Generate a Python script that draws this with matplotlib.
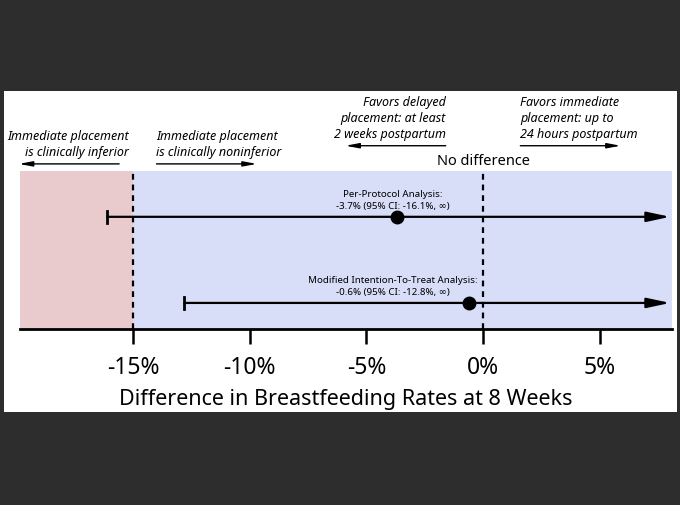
import matplotlib.pyplot as plt
from matplotlib.patches import Rectangle

plt.rcParams['font.family'] = ['Noto Sans', 'DejaVu Sans']

# data
analyses = ['Per-Protocol Analysis', 'Modified Intention-To-Treat Analysis']
estimates = [-3.7, -0.6]
ci_lower = [-16.1, -12.8]
margin = -15
xticks = [-15, -10, -5, 0, 5]
xlabels = ['-15%', '-10%', '-5%', '0%', '5%']
xmin, xmax = -19.85, 8.1

row_y = [0.71, 0.165]

fig = plt.figure(figsize=(6.8, 5.06), dpi=100, facecolor='#2d2d2d')
fig.patches.append(Rectangle((4 / 680, 93 / 506), 673 / 680, 321 / 506,
                             transform=fig.transFigure, facecolor='white',
                             edgecolor='none', zorder=-5))

ax = fig.add_axes([20 / 680, (506 - 330) / 506, 652 / 680, 158 / 506])
ax.set_facecolor('none')
ax.set_xlim(xmin, xmax)
ax.set_ylim(0, 1)

ax.axvspan(xmin, margin, color='#e9cacd', lw=0, zorder=0)
ax.axvspan(margin, xmax, color='#d8ddf8', lw=0, zorder=0)
ax.axvline(margin, color='black', ls=(0, (2.6, 2.2)), lw=1.6, zorder=1)
ax.axvline(0, color='black', ls=(0, (2.6, 2.2)), lw=1.6, zorder=1)

for i, name in enumerate(analyses):
    y = row_y[i]
    ax.annotate('', xy=(xmax - 0.08, y), xytext=(ci_lower[i], y),
                arrowprops=dict(arrowstyle='-|>,head_length=1.4,head_width=0.3',
                                color='black', lw=1.6, shrinkA=0, shrinkB=0),
                zorder=3)
    ax.plot([ci_lower[i], ci_lower[i]], [y - 0.04, y + 0.04], color='black', lw=2, zorder=3)
    ax.plot(estimates[i], y, 'o', color='black', ms=9, zorder=4)
    label = '%s:\n%.1f%% (95%% CI: %.1f%%, \u221e)' % (name, estimates[i], ci_lower[i])
    ax.text(-3.85, y + 0.045, label, ha='center', va='bottom', fontsize=7,
            linespacing=1.45, zorder=5)

for s in ['top', 'left', 'right']:
    ax.spines[s].set_visible(False)
ax.spines['bottom'].set_linewidth(2)
ax.set_yticks([])
ax.set_xticks(xticks)
ax.set_xticklabels(xlabels, fontsize=16.5)
ax.tick_params(axis='x', length=11, width=1.8, pad=8)
ax.set_xlabel('Difference in Breastfeeding Rates at 8 Weeks', fontsize=15.5, labelpad=6)

# annotations above the plot
tr = ax.get_xaxis_transform()
head = dict(arrowstyle='-|>,head_length=0.8,head_width=0.15', color='black',
            lw=1, shrinkA=0, shrinkB=0)
ax.text(0, 1.02, 'No difference', ha='center', va='bottom', fontsize=10.5, transform=tr)
ax.text(-1.6, 1.195, 'Favors delayed\nplacement: at least\n2 weeks postpartum', ha='right',
        va='bottom', fontsize=9, style='italic', linespacing=1.3, transform=tr)
ax.annotate('', xy=(-5.9, 1.16), xytext=(-1.6, 1.16), xycoords=tr, arrowprops=head)
ax.text(1.6, 1.195, 'Favors immediate\nplacement: up to\n24 hours postpartum', ha='left',
        va='bottom', fontsize=9, style='italic', linespacing=1.3, transform=tr)
ax.annotate('', xy=(5.9, 1.16), xytext=(1.6, 1.16), xycoords=tr, arrowprops=head)
ax.text(-15.2, 1.08, 'Immediate placement\nis clinically inferior', ha='right',
        va='bottom', fontsize=9, style='italic', linespacing=1.3, transform=tr)
ax.annotate('', xy=(-19.9, 1.045), xytext=(-15.6, 1.045), xycoords=tr, arrowprops=head)
ax.text(-14.0, 1.08, 'Immediate placement\nis clinically noninferior', ha='left',
        va='bottom', fontsize=9, style='italic', linespacing=1.3, transform=tr)
ax.annotate('', xy=(-9.7, 1.045), xytext=(-14.0, 1.045), xycoords=tr, arrowprops=head)

fig.savefig('out.png', dpi=100, facecolor=fig.get_facecolor())
